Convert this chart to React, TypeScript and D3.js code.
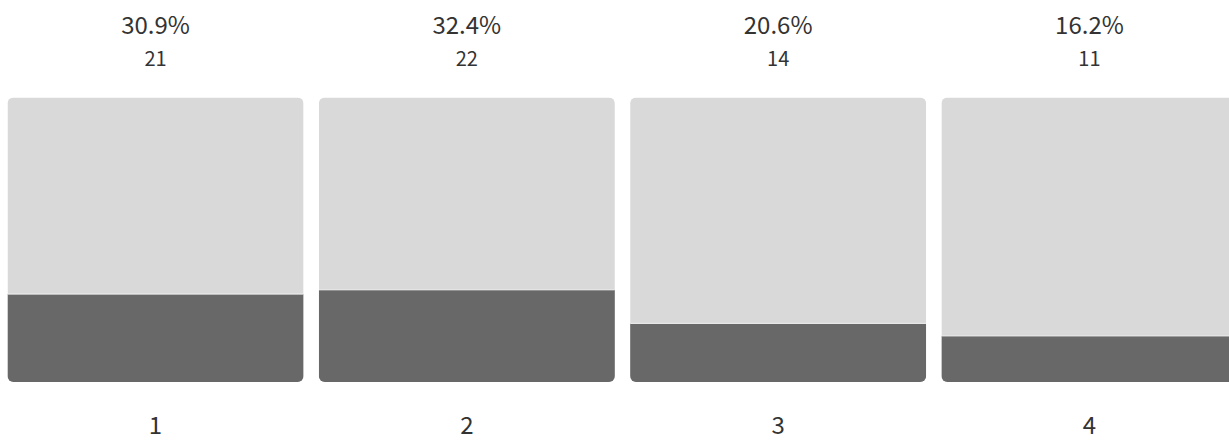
import React from "react";
import * as d3 from "d3";

const categories = ["1", "2", "3", "4"];
const counts = [21, 22, 14, 11];
const percents = [30.9, 32.4, 20.6, 16.2];

const W = 1229;
const H = 441;
const FONT = "'Noto Sans CJK KR', 'Noto Sans', sans-serif";

export default function App() {
  const x = d3
    .scaleBand<string>()
    .domain(categories)
    .range([7.5, 1237.5])
    .paddingInner(0.049)
    .paddingOuter(0);
  const top = 97.5;
  const bottom = 382;
  const y = d3.scaleLinear().domain([0, 100]).range([bottom, top]);
  const r = 6;

  return (
    <div style={{ position: "absolute", left: 0, top: 0, width: W, height: H, overflow: "hidden", background: "#fff" }}>
      <svg width={W} height={H} style={{ display: "block" }}>
        <defs>
          {categories.map((c, i) => (
            <clipPath id={`clip-${i}`} key={c}>
              <rect x={x(c)} y={top} width={x.bandwidth()} height={bottom - top} rx={r} ry={r} />
            </clipPath>
          ))}
        </defs>
        {categories.map((c, i) => {
          const x0 = x(c) as number;
          const bw = x.bandwidth();
          const cx = x0 + bw / 2;
          const yTop = y(percents[i]);
          return (
            <g key={c}>
              <g clipPath={`url(#clip-${i})`}>
                <rect x={x0} y={top} width={bw} height={bottom - top} fill="#d9d9d9" />
                <rect x={x0} y={yTop} width={bw} height={bottom - yTop} fill="#686868" />
                <line x1={x0} x2={x0 + bw} y1={yTop} y2={yTop} stroke="#f2f2f2" strokeWidth={1} />
              </g>
              <text x={cx} y={34} textAnchor="middle" fontFamily={FONT} fontSize={24} fill="#333">
                {percents[i].toFixed(1)}%
              </text>
              <text x={cx} y={66} textAnchor="middle" fontFamily={FONT} fontSize={20} fill="#333">
                {counts[i]}
              </text>
              <text x={cx} y={434} textAnchor="middle" fontFamily={FONT} fontSize={24} fill="#333">
                {c}
              </text>
            </g>
          );
        })}
      </svg>
    </div>
  );
}
